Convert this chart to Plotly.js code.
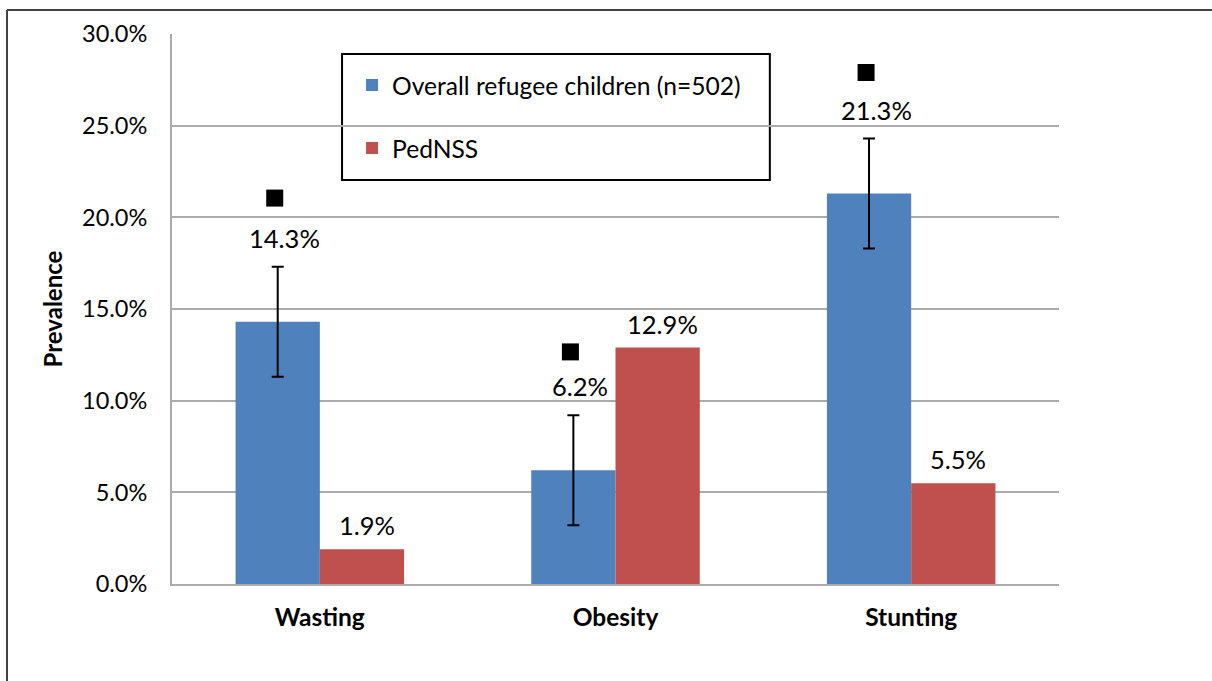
<!DOCTYPE html>
<html>
<head>
<meta charset="utf-8">
<script src="https://cdn.plot.ly/plotly-3.0.1.min.js"></script>
<style>
  html, body { margin: 0; padding: 0; background: #fff; }
  #chart { width: 1212px; height: 681px; }
</style>
</head>
<body>
<div id="chart"></div>
<script>
// ---- data ----
const categories = ["Wasting", "Obesity", "Stunting"];
const refugeeValues = [14.3, 6.2, 21.3];
const refugeeErrors = [3.0, 3.0, 3.0];
const pednssValues = [1.9, 12.9, 5.5];
const significanceMarks = [21.05, 12.66, 27.9];
const seriesNames = ["Overall refugee children (n=502)", "PedNSS"];
const yTicks = [0, 5, 10, 15, 20, 25, 30];

// ---- styles ----
const BLUE = "#4F81BD";
const RED = "#C0504D";
const GRID = "#ABABAB";
const FONT = "Lato, 'Open Sans', sans-serif";
const BARGAP = 0.43;

const xIdx = categories.map((c, i) => i);
const barW = (1 - BARGAP) / 2;
const blueX = xIdx.map(i => i - barW / 2);
const redX = xIdx.map(i => i + barW / 2);

const fmt = v => v.toFixed(1) + "%";

const traces = [
  {
    type: "bar", name: seriesNames[0], x: xIdx, y: refugeeValues,
    marker: { color: BLUE }, legendgroup: "a",
    error_y: { type: "data", array: refugeeErrors, visible: true, color: "#000", thickness: 2, width: 6 },
    hoverinfo: "skip"
  },
  {
    type: "bar", name: seriesNames[1], x: xIdx, y: pednssValues,
    marker: { color: RED }, legendgroup: "b", hoverinfo: "skip"
  },
  {
    type: "scatter", mode: "markers", x: blueX.map(v => v - 0.01), y: significanceMarks,
    marker: { symbol: "square", size: 17, color: "#000" },
    showlegend: false, hoverinfo: "skip", cliponaxis: false
  }
];

const annotations = [];
refugeeValues.forEach((v, i) => {
  annotations.push({
    x: blueX[i], y: v + refugeeErrors[i], xref: "x", yref: "y",
    text: fmt(v), showarrow: false, yanchor: "bottom", xanchor: "center",
    xshift: 7, yshift: 12, font: { family: FONT, size: 25.5, color: "#000" }
  });
});
pednssValues.forEach((v, i) => {
  annotations.push({
    x: redX[i], y: v, xref: "x", yref: "y",
    text: fmt(v), showarrow: false, yanchor: "bottom", xanchor: "center",
    xshift: 5, yshift: 7, font: { family: FONT, size: 25.5, color: "#000" }
  });
});

const layout = {
  width: 1212, height: 681,
  margin: { l: 172, r: 153, t: 34, b: 97 },
  paper_bgcolor: "#fff", plot_bgcolor: "#fff",
  font: { family: FONT, size: 24, color: "#000" },
  barmode: "group", bargap: BARGAP, bargroupgap: 0,
  showlegend: true,
  legend: {
    x: 0.203, y: 0.948, xanchor: "left", yanchor: "top",
    bgcolor: "rgba(0,0,0,0)", borderwidth: 0,
    traceorder: "grouped", tracegroupgap: 28,
    font: { family: FONT, size: 24.6, color: "#000" }
  },
  xaxis: {
    range: [-0.5, 2.5], tickvals: xIdx, ticktext: categories,
    showgrid: false, zeroline: false, showline: true, linecolor: GRID, linewidth: 2,
    ticks: "", ticklabelstandoff: 11,
    tickfont: { family: FONT, size: 24.5, color: "#000", weight: "bold" },
    fixedrange: true
  },
  yaxis: {
    range: [0, 30], tickvals: yTicks, ticktext: yTicks.map(fmt),
    showgrid: true, gridcolor: GRID, gridwidth: 2,
    zeroline: false, showline: true, linecolor: GRID, linewidth: 2,
    ticks: "", ticklabelstandoff: 18,
    tickfont: { family: FONT, size: 23.5, color: "#000" },
    title: { text: "Prevalence", standoff: 13, font: { family: FONT, size: 24, color: "#000", weight: "bold" } },
    fixedrange: true
  },
  shapes: [
    { type: "rect", xref: "paper", yref: "paper", x0: 0.1917, x1: 0.674, y0: 0.7345, y1: 0.9636,
      line: { color: "#000", width: 2 }, fillcolor: "#fff", layer: "between" },
    { type: "line", xref: "paper", yref: "paper", x0: -0.186, x1: 1.2, y0: 1.0436, y1: 1.0436,
      line: { color: "#404040", width: 2 }, layer: "above" },
    { type: "line", xref: "paper", yref: "paper", x0: -0.186, x1: -0.186, y0: -0.2, y1: 1.0436,
      line: { color: "#404040", width: 2 }, layer: "above" }
  ],
  annotations: annotations
};

Plotly.newPlot("chart", traces, layout, { displayModeBar: false, staticPlot: true });
</script>
</body>
</html>
